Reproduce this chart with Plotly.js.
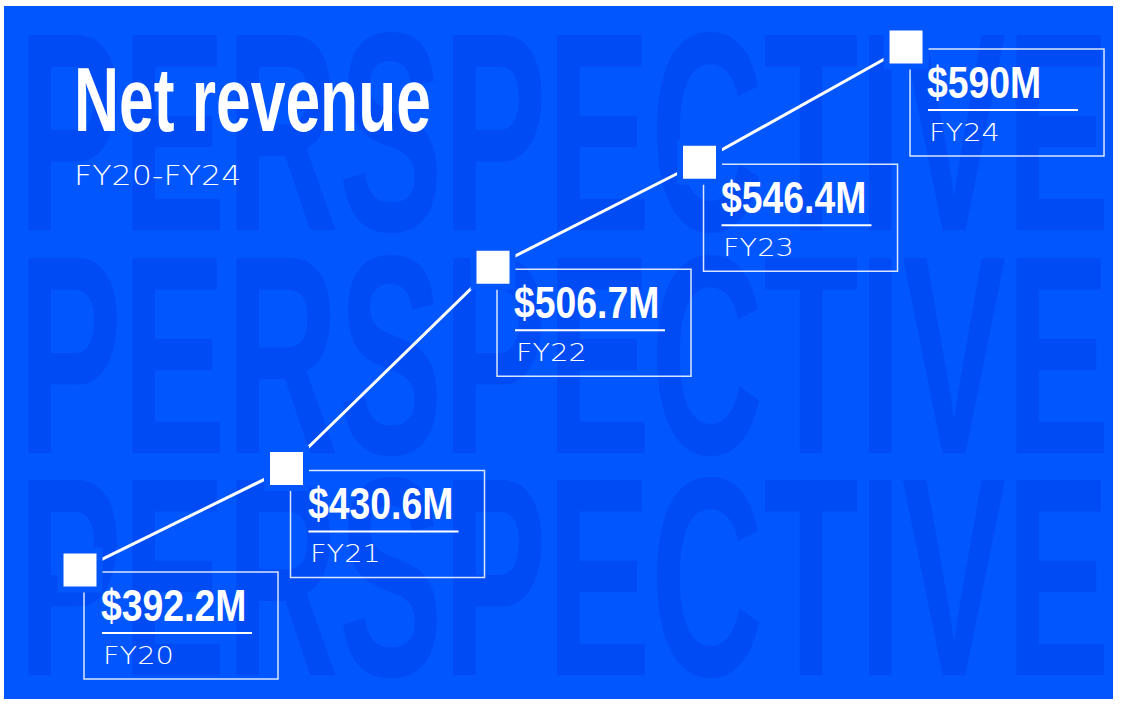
<!DOCTYPE html>
<html>
<head>
<meta charset="utf-8">
<script src="https://cdn.plot.ly/plotly-3.0.1.min.js"></script>
<style>
  html, body { margin: 0; padding: 0; background: #ffffff; }
  #chart { width: 1121px; height: 706px; }
</style>
</head>
<body>
<div id="chart"></div>
<script>
// ---- data ----
const fiscalYears = ['FY20', 'FY21', 'FY22', 'FY23', 'FY24'];
const netRevenueM = [392.2, 430.6, 506.7, 546.4, 590];
const chartTitle = 'Net revenue';
const chartSubtitle = 'FY20-FY24';
const watermarkWord = 'PERSPECTIVE';

// ---- style ----
const W = 1121, H = 706;
const BG = '#0256fe';
const WM = '#004bf4';
const WHITE = '#ffffff';
const BOX_LINE = 'rgba(255,255,255,0.85)';
const BOLD_FONT = 'Liberation Sans';
const THIN_FONT = 'DejaVu Sans';

const valueText = netRevenueM.map(v => '$' + v + 'M');

const traces = [{
  type: 'scatter',
  mode: 'lines+markers',
  x: fiscalYears,
  y: netRevenueM,
  line: { color: WHITE, width: 3 },
  marker: { symbol: 'square', size: 39, color: WHITE, line: { color: BG, width: 6 } },
  hoverinfo: 'skip',
  showlegend: false,
  cliponaxis: false
}];

const shapes = [];
// blue panel
shapes.push({
  type: 'rect', xref: 'paper', yref: 'paper', layer: 'below',
  x0: 4 / W, x1: 1113 / W, y0: 1 - 699 / H, y1: 1 - 6 / H,
  fillcolor: BG, line: { width: 0 }
});
// watermark rows
const wmRows = [[27, 230], [250, 453], [472, 675]];
const WM_SIZE = 284;
wmRows.forEach(r => {
  shapes.push({
    type: 'rect', xref: 'paper', yref: 'paper', layer: 'below',
    x0: 0, x1: 1, y0: 1 - r[1] / H, y1: 1 - r[0] / H,
    fillcolor: 'rgba(0,0,0,0)', line: { width: 0 },
    label: {
      text: watermarkWord, textposition: 'middle center',
      font: { family: BOLD_FONT, size: WM_SIZE, color: WM, weight: 700 }
    }
  });
});
// label boxes and underlines, anchored to each data point
fiscalYears.forEach((fy, i) => {
  shapes.push({
    type: 'rect', xref: 'x', yref: 'y', layer: 'below',
    xsizemode: 'pixel', ysizemode: 'pixel', xanchor: i, yanchor: netRevenueM[i],
    x0: 4, x1: 198, y0: -2, y1: -109,
    fillcolor: 'rgba(0,0,0,0)', line: { color: BOX_LINE, width: 1.5 }
  });
  shapes.push({
    type: 'line', xref: 'x', yref: 'y', layer: 'below',
    xsizemode: 'pixel', ysizemode: 'pixel', xanchor: i, yanchor: netRevenueM[i],
    x0: 22, x1: 172, y0: -63, y1: -63,
    line: { color: WHITE, width: 2 }
  });
});

const annotations = [];
annotations.push({
  xref: 'paper', yref: 'paper', x: 75 / W, y: 1 - 100.5 / H,
  xanchor: 'left', yanchor: 'middle', xshift: -3, showarrow: false,
  text: chartTitle,
  font: { family: BOLD_FONT, size: 90, color: WHITE, weight: 700 }
});
annotations.push({
  xref: 'paper', yref: 'paper', x: 75 / W, y: 1 - 176 / H,
  xanchor: 'left', yanchor: 'middle', xshift: -3, showarrow: false,
  text: chartSubtitle,
  font: { family: THIN_FONT, size: 26, color: WHITE, weight: 300 }
});
fiscalYears.forEach((fy, i) => {
  annotations.push({
    xref: 'x', yref: 'y', x: i, y: netRevenueM[i],
    xanchor: 'left', yanchor: 'middle', xshift: 19, yshift: -35, showarrow: false,
    text: valueText[i],
    font: { family: BOLD_FONT, size: 45, color: WHITE, weight: 700 }
  });
  annotations.push({
    xref: 'x', yref: 'y', x: i, y: netRevenueM[i],
    xanchor: 'left', yanchor: 'middle', xshift: 21, yshift: -85.5, showarrow: false,
    text: fy,
    font: { family: THIN_FONT, size: 24, color: WHITE, weight: 300 }
  });
});

const layout = {
  width: W, height: H,
  margin: { l: 0, r: 0, t: 0, b: 0 },
  paper_bgcolor: WHITE,
  plot_bgcolor: 'rgba(0,0,0,0)',
  xaxis: { type: 'category', range: [-0.3874, 5.041], visible: false, fixedrange: true },
  yaxis: { range: [340.78, 607.78], visible: false, fixedrange: true },
  shapes: shapes,
  annotations: annotations,
  showlegend: false
};

// horizontal squeeze/stretch of a text element, keeping its left edge
function scaleX(t, sx) {
  const b = t.getBBox();
  const prev = t.getAttribute('transform') || '';
  t.setAttribute('transform', 'translate(' + (b.x * (1 - sx)) + ',0) scale(' + sx + ',1) ' + prev);
}

const gd = document.getElementById('chart');
Plotly.newPlot(gd, traces, layout, { staticPlot: true }).then(function () {
  let k = 0;
  gd.querySelectorAll('text').forEach(function (t) {
    const txt = t.textContent;
    if (txt === watermarkWord && k < wmRows.length) {
      const b = t.getBBox();
      const sx = 1092 / b.width;
      const capTop = b.y + 0.189 * WM_SIZE;
      const tx = 18 - sx * b.x;
      const ty = wmRows[k][0] - capTop;
      const prev = t.getAttribute('transform') || '';
      t.setAttribute('transform', 'translate(' + tx + ',' + ty + ') scale(' + sx + ',1) ' + prev);
      k++;
    } else if (txt === chartTitle) {
      const b = t.getBBox();
      scaleX(t, 357 / b.width);
    } else if (valueText.indexOf(txt) >= 0) {
      scaleX(t, 0.83);
    } else if (txt === chartSubtitle) {
      scaleX(t, 1.22);
    } else if (fiscalYears.indexOf(txt) >= 0) {
      scaleX(t, 1.2);
    }
  });
});
</script>
</body>
</html>
